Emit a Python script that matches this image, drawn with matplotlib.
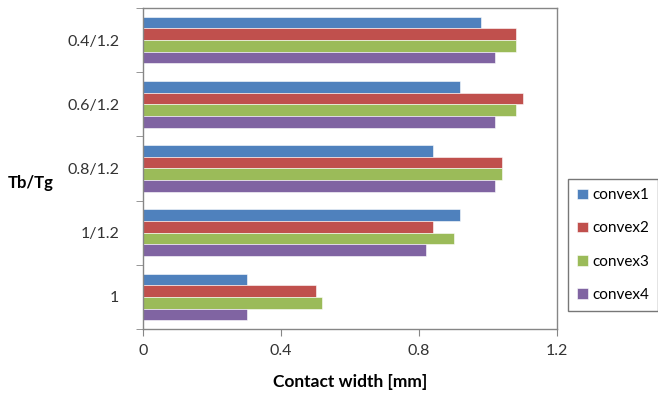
import matplotlib.pyplot as plt
import numpy as np

# Catégories (de haut en bas) et largeurs de contact [mm]
categories = ["0.4/1.2", "0.6/1.2", "0.8/1.2", "1/1.2", "1"]
series = ["convex1", "convex2", "convex3", "convex4"]
convex1 = [0.98, 0.92, 0.84, 0.92, 0.30]
convex2 = [1.08, 1.10, 1.04, 0.84, 0.50]
convex3 = [1.08, 1.08, 1.04, 0.90, 0.52]
convex4 = [1.02, 1.02, 1.02, 0.82, 0.30]
couleurs = ["#4F81BD", "#C0504D", "#9BBB59", "#8064A2"]

plt.rcParams["font.family"] = ["Lato", "DejaVu Sans"]

fig = plt.figure(figsize=(6.58, 3.98), dpi=100)
ax = fig.add_axes([143 / 658, 1 - 329 / 398, 414 / 658, 321 / 398])

n = len(categories)
centres = np.arange(n)[::-1].astype(float)  # première catégorie en haut
hauteur = 0.182
valeurs = [convex1, convex2, convex3, convex4]
for i, (nom, vals, c) in enumerate(zip(series, valeurs, couleurs)):
    y = centres + (1.5 - i) * hauteur
    ax.barh(y, vals, height=hauteur, color=c, edgecolor="white",
            linewidth=0.4, label=nom)

ax.set_xlim(0, 1.2)
ax.set_ylim(-0.5, n - 0.5)
ax.set_xticks([0, 0.4, 0.8, 1.2])
ax.set_xticklabels(["0", "0.4", "0.8", "1.2"])
ax.set_yticks(centres)
ax.set_yticklabels(categories)
ax.set_yticks(np.arange(n + 1) - 0.5, minor=True)
ax.tick_params(axis="y", which="major", length=0, pad=17, labelsize=11.5,
               colors="#333333")
ax.tick_params(axis="y", which="minor", length=5, color="#868686")
ax.tick_params(axis="x", length=5, color="#868686", labelsize=11.5,
               colors="#333333", pad=6)
for s in ax.spines.values():
    s.set_color("#868686")
    s.set_linewidth(1)

ax.set_xlabel("Contact width [mm]", fontweight="bold", fontsize=12.5,
              labelpad=11)
fig.text(8 / 658, 1 - 183 / 398, "Tb/Tg", fontweight="bold", fontsize=12,
         va="center", ha="left")

fig.legend(loc="center left", bbox_to_anchor=(568 / 658, 1 - 245 / 398),
           bbox_transform=fig.transFigure, fontsize=11, frameon=True,
           fancybox=False, edgecolor="#555555", handlelength=0.7,
           handleheight=0.7, handletextpad=0.3, labelspacing=1.25,
           borderpad=0.6, borderaxespad=0)

fig.savefig("out.png", dpi=100)
